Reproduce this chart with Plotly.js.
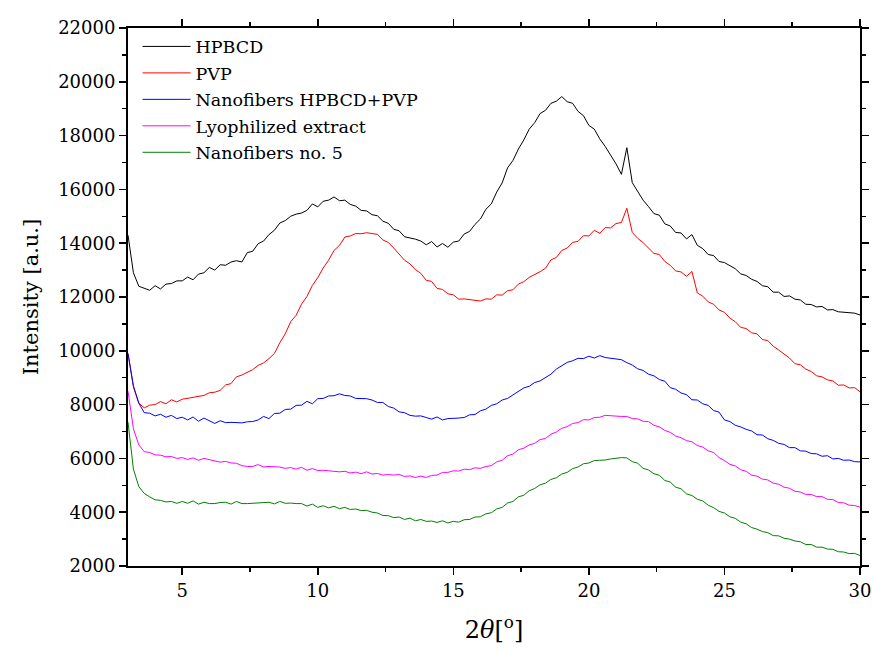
<!DOCTYPE html>
<html>
<head>
<meta charset="utf-8">
<script src="https://cdn.plot.ly/plotly-3.0.1.min.js"></script>
<style>
html,body{margin:0;padding:0;background:#fff;}
#chart{width:872px;height:651px;}
</style>
</head>
<body>
<div id="chart"></div>
<script>
// 2-theta grid (degrees)
const twoTheta = [
  3.0,3.2,3.4,3.6,3.8,4.0,4.2,4.4,4.6,4.8,
  5.0,5.2,5.4,5.6,5.8,6.0,6.2,6.4,6.6,6.8,
  7.0,7.2,7.4,7.6,7.8,8.0,8.2,8.4,8.6,8.8,
  9.0,9.2,9.4,9.6,9.8,10.0,10.2,10.4,10.6,10.8,
  11.0,11.2,11.4,11.6,11.8,12.0,12.2,12.4,12.6,12.8,
  13.0,13.2,13.4,13.6,13.8,14.0,14.2,14.4,14.6,14.8,
  15.0,15.2,15.4,15.6,15.8,16.0,16.2,16.4,16.6,16.8,
  17.0,17.2,17.4,17.6,17.8,18.0,18.2,18.4,18.6,18.8,
  19.0,19.2,19.4,19.6,19.8,20.0,20.2,20.4,20.6,20.8,
  21.0,21.2,21.4,21.6,21.8,22.0,22.2,22.4,22.6,22.8,
  23.0,23.2,23.4,23.6,23.8,24.0,24.2,24.4,24.6,24.8,
  25.0,25.2,25.4,25.6,25.8,26.0,26.2,26.4,26.6,26.8,
  27.0,27.2,27.4,27.6,27.8,28.0,28.2,28.4,28.6,28.8,
  29.0,29.2,29.4,29.6,29.8,30.0
];

const hpbcd = [
  14300,12900,12400,12330,12250,12420,12300,12480,12500,12600,
  12600,12740,12640,12850,12900,13100,13000,13200,13180,13300,
  13350,13300,13650,13700,13980,14080,14320,14480,14750,14840,
  15000,15080,15120,15220,15460,15350,15560,15600,15720,15580,
  15600,15440,15380,15220,15200,15060,15020,14820,14740,14520,
  14460,14240,14200,14150,14080,13940,14060,13860,13990,13850,
  14040,14080,14340,14440,14700,14900,15260,15460,15900,16240,
  16800,17080,17500,17840,18240,18480,18820,18940,19200,19280,
  19450,19260,19200,18900,18740,18380,18240,17880,17600,17280,
  16950,16560,17550,16250,15900,15600,15360,15100,15040,14720,
  14640,14400,14380,14160,14320,13920,13800,13580,13540,13320,
  13280,13150,13050,12860,12800,12660,12580,12420,12380,12180,
  12180,12020,12040,11920,11890,11730,11720,11630,11650,11520,
  11530,11450,11440,11420,11400,11330
];

const pvp = [
  9900,8650,8050,7880,7980,8000,8110,8030,8180,8100,
  8200,8240,8260,8320,8340,8440,8460,8530,8730,8780,
  9030,9100,9210,9300,9460,9550,9710,9900,10300,10630,
  11080,11320,11730,12020,12430,12720,13080,13370,13730,13920,
  14230,14270,14360,14350,14390,14370,14330,14120,14030,13820,
  13580,13370,13230,13020,12880,12620,12580,12320,12280,12120,
  12080,11920,11930,11910,11880,11850,11930,11920,12080,12070,
  12230,12270,12480,12570,12730,12820,12940,13070,13380,13470,
  13730,13820,14030,14070,14280,14270,14480,14370,14580,14570,
  14730,14770,15300,14400,14180,14020,13830,13620,13580,13320,
  13180,12970,12930,12770,12950,12150,12030,11820,11730,11520,
  11430,11220,11080,10870,10830,10670,10630,10420,10380,10170,
  10030,9870,9730,9520,9480,9320,9230,9070,9030,8920,
  8880,8720,8730,8620,8630,8480
];

const nanoHpbcdPvp = [
  9900,8700,8050,7700,7680,7580,7640,7530,7600,7480,
  7530,7430,7540,7380,7500,7410,7300,7400,7330,7340,
  7330,7320,7360,7370,7430,7560,7480,7670,7680,7820,
  7830,7970,7980,8120,8030,8220,8230,8320,8330,8400,
  8340,8320,8230,8220,8220,8170,8080,8080,7930,7870,
  7730,7700,7600,7570,7580,7520,7460,7540,7430,7480,
  7480,7500,7520,7620,7630,7770,7830,7970,8030,8170,
  8230,8370,8480,8620,8680,8820,8880,9020,9130,9320,
  9430,9570,9630,9720,9710,9800,9730,9820,9750,9720,
  9700,9670,9560,9470,9330,9270,9130,9070,8930,8870,
  8630,8570,8430,8370,8180,8170,8030,7970,7780,7720,
  7430,7370,7230,7170,7080,7020,6880,6870,6730,6670,
  6560,6520,6400,6400,6280,6270,6180,6170,6080,6100,
  5980,6000,5930,5940,5880,5870
];

const lyophilized = [
  8500,7100,6500,6250,6220,6130,6120,6060,6070,6000,
  6030,5960,6020,5930,6000,5950,5920,5860,5890,5830,
  5820,5730,5700,5700,5770,5680,5700,5700,5680,5630,
  5660,5600,5670,5560,5620,5550,5560,5540,5520,5500,
  5520,5460,5490,5430,5500,5420,5440,5380,5400,5380,
  5400,5330,5350,5290,5340,5290,5370,5380,5480,5480,
  5540,5530,5600,5580,5650,5630,5700,5730,5870,5930,
  6100,6160,6320,6380,6500,6560,6700,6740,6900,6980,
  7120,7180,7300,7330,7440,7430,7520,7530,7600,7580,
  7570,7560,7560,7480,7470,7380,7370,7230,7170,7040,
  6970,6830,6770,6660,6620,6480,6420,6280,6220,6030,
  5920,5780,5720,5580,5520,5380,5340,5230,5200,5080,
  5040,4930,4890,4780,4750,4660,4660,4580,4580,4480,
  4470,4360,4350,4260,4250,4190
];

const nanoNo5 = [
  7350,5600,4950,4700,4570,4460,4440,4380,4400,4330,
  4400,4330,4420,4300,4370,4320,4320,4360,4370,4300,
  4400,4320,4320,4330,4340,4360,4370,4310,4400,4330,
  4340,4320,4320,4230,4300,4180,4240,4160,4220,4130,
  4180,4100,4120,4060,4070,4000,3970,3880,3870,3800,
  3820,3730,3780,3680,3730,3660,3670,3620,3680,3600,
  3660,3630,3720,3730,3820,3830,3940,3980,4120,4180,
  4340,4400,4570,4630,4800,4880,5020,5080,5220,5280,
  5420,5480,5620,5680,5800,5830,5920,5930,5940,5980,
  6000,6030,6020,5880,5820,5630,5570,5430,5370,5180,
  5120,4930,4870,4680,4620,4480,4420,4260,4170,4030,
  3970,3830,3770,3630,3570,3430,3370,3280,3240,3130,
  3120,3030,3000,2930,2900,2800,2800,2700,2700,2630,
  2620,2530,2520,2460,2470,2390
];

const seriesNames = ['HPBCD','PVP','Nanofibers HPBCD+PVP','Lyophilized extract','Nanofibers no. 5'];
const seriesData = [hpbcd, pvp, nanoHpbcdPvp, lyophilized, nanoNo5];
const seriesColors = ['#000000','#ff0000','#0000ff','#ff00ff','#008000'];

const xTickVals = [5,10,15,20,25,30];
const yTickVals = [2000,4000,6000,8000,10000,12000,14000,16000,18000,20000,22000];

const legendIds = ['legend','legend2','legend3','legend4','legend5'];

const traces = seriesNames.map((n,i)=>({
  x: twoTheta, y: seriesData[i], name: n, type:'scatter', mode:'lines',
  line:{color:seriesColors[i], width:1}, legend: legendIds[i]
}));

const font = 'DejaVu Serif';
const layout = {
  width:872, height:651,
  margin:{l:128, r:12, t:28, b:85},
  paper_bgcolor:'#fff', plot_bgcolor:'#fff',
  font:{family:font, color:'#000', size:18},
  showlegend:true,
  xaxis:{
    range:[3,30], tickmode:'array', tickvals:xTickVals, ticktext:xTickVals.map(String),
    showline:true, linecolor:'#000', linewidth:2, mirror:'allticks',
    ticks:'outside', ticklen:7, tickwidth:1.5, tickcolor:'#000',
    minor:{ticks:'outside', dtick:2.5, tick0:0, ticklen:4, tickwidth:1.5, tickcolor:'#000'},
    showgrid:false, zeroline:false,
    tickfont:{family:font,size:18,color:'#000'},
    title:{text:'2<i>θ</i>[<sup>o</sup>]', font:{family:font,size:24,color:'#000'}, standoff:22}
  },
  yaxis:{
    range:[2000,22000], tickmode:'array', tickvals:yTickVals, ticktext:yTickVals.map(String),
    showline:true, linecolor:'#000', linewidth:2, mirror:'allticks',
    ticks:'outside', ticklen:7, tickwidth:1.5, tickcolor:'#000',
    minor:{ticks:'outside', dtick:1000, tick0:0, ticklen:4, tickwidth:1.5, tickcolor:'#000'},
    showgrid:false, zeroline:false,
    tickfont:{family:font,size:18,color:'#000'},
    title:{text:'Intensity [a.u.]', font:{family:font,size:21,color:'#000'}, standoff:14}
  }
};
legendIds.forEach((id,i)=>{
  layout[id] = {x:0.013, y:0.999 - i*0.0492, xanchor:'left', yanchor:'top', itemwidth:48,
    bgcolor:'rgba(0,0,0,0)', font:{family:font,size:17.5,color:'#000'}};
});

Plotly.newPlot('chart', traces, layout, {displayModeBar:false, staticPlot:true});
</script>
</body>
</html>
